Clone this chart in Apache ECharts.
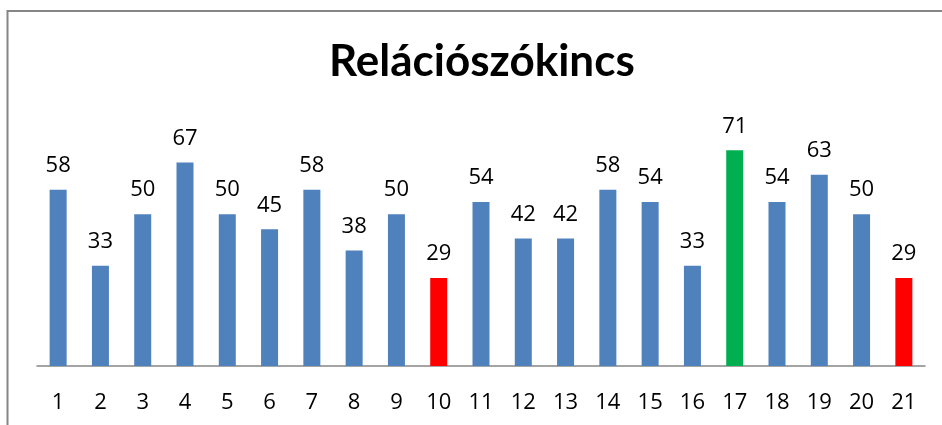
<!DOCTYPE html>
<html>
<head>
<meta charset="utf-8">
<script src="https://cdn.jsdelivr.net/npm/echarts@6/dist/echarts.min.js"></script>
<style>
  html, body { margin: 0; padding: 0; background: #fff; }
  #main { width: 942px; height: 425px; }
</style>
</head>
<body>
<div id="main"></div>
<script>
// adatok
const categories = ['1','2','3','4','5','6','7','8','9','10','11','12','13','14','15','16','17','18','19','20','21'];
const values = [58, 33, 50, 67, 50, 45, 58, 38, 50, 29, 54, 42, 42, 58, 54, 33, 71, 54, 63, 50, 29];
const lowIdx = [9, 20];   // piros oszlopok
const highIdx = [16];     // zöld oszlop

const blue = '#4F81BD';
const red = '#FF0000';
const green = '#00B050';

const myChart = echarts.init(document.getElementById('main'));

const barData = values.map((v, i) => {
  let c = blue;
  if (lowIdx.includes(i)) c = red;
  if (highIdx.includes(i)) c = green;
  return { value: v, itemStyle: { color: c } };
});

const option = {
  animation: false,
  textStyle: { fontFamily: 'Open Sans' },
  graphic: [
    {
      type: 'rect',
      shape: { x: 7.5, y: 11, width: 1000, height: 500 },
      style: { fill: 'none', stroke: '#868686', lineWidth: 2 },
      silent: true
    }
  ],
  title: {
    text: 'Relációszókincs',
    left: 324,
    top: 35,
    textStyle: { fontFamily: 'Lato', fontWeight: 'bold', fontSize: 44, color: '#000' }
  },
  grid: { left: 37, right: 17, top: 123, bottom: 59 },
  xAxis: {
    type: 'category',
    data: categories,
    axisTick: { show: false },
    axisLine: { lineStyle: { color: '#878787', width: 1.5 } },
    axisLabel: { color: '#000', fontSize: 22, margin: 26, fontFamily: 'Open Sans' }
  },
  yAxis: {
    type: 'value',
    min: 0,
    max: 80,
    show: false,
    splitLine: { show: false }
  },
  series: [
    {
      type: 'bar',
      data: barData,
      barWidth: 17,
      label: {
        show: true,
        position: 'top',
        distance: 13,
        color: '#000',
        fontSize: 22,
        fontFamily: 'Open Sans'
      }
    }
  ]
};

myChart.setOption(option);
</script>
</body>
</html>
